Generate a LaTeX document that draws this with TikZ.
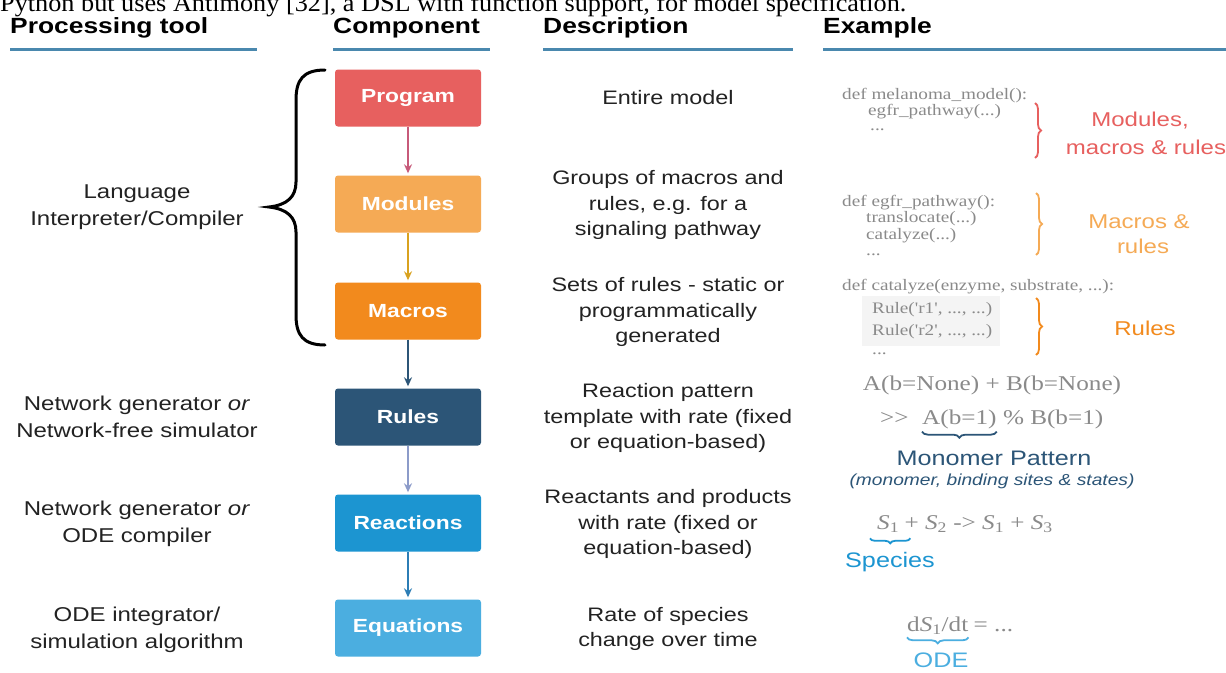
\documentclass[tikz,border=0pt]{standalone}
\usepackage{fontspec}
\setmainfont{Liberation Serif}
\newfontfamily\hv[FakeStretch=1.2]{Liberation Sans}
\newfontfamily\tm[FakeStretch=1.2]{Liberation Serif}
\newfontfamily\tp[FakeStretch=1.05]{Liberation Serif}
\usetikzlibrary{arrows.meta,decorations.pathreplacing}
\definecolor{cprog}{HTML}{E7605F}
\definecolor{cmod}{HTML}{F5AA55}
\definecolor{cmac}{HTML}{F28A1D}
\definecolor{crul}{HTML}{2C5577}
\definecolor{creac}{HTML}{1C95D1}
\definecolor{cequ}{HTML}{4BAEE0}
\definecolor{aone}{HTML}{C75A7A}
\definecolor{atwo}{HTML}{D9A21F}
\definecolor{afour}{HTML}{8C9BC9}
\definecolor{afive}{HTML}{2C7DB5}
\definecolor{cline}{HTML}{4A88AE}
\definecolor{cgray}{HTML}{8A8A8A}
\definecolor{ctext}{HTML}{222222}
\definecolor{cshade}{HTML}{F4F4F4}
\begin{document}
\begin{tikzpicture}[x=1pt,y=-1pt,
  box/.style={rounded corners=3pt, minimum width=146pt, minimum height=57pt, text=white, font=\hv\bfseries\fontsize{19}{22}\selectfont, inner sep=0pt},
  hdr/.style={anchor=base west, inner sep=0pt, font=\hv\bfseries\fontsize{22}{26}\selectfont},
  uline/.style={line width=3pt, color=cline},
  lft/.style={align=center, text=ctext, font=\hv\fontsize{20}{27}\selectfont},
  dsc/.style={align=center, text=ctext, font=\hv\fontsize{19.5}{25.5}\selectfont},
  code/.style={anchor=base west, text=cgray, font=\tm\fontsize{16}{18}\selectfont, inner sep=0pt},
  lbl/.style={align=center, font=\hv\fontsize{20}{26}\selectfont},
  eqn/.style={anchor=base west, text=cgray, font=\tm\fontsize{21}{24}\selectfont, inner sep=0pt},
  arr/.style={-{Stealth[length=9pt,width=8pt]}, line width=2pt, shorten >=2pt},
  rbrace/.style={decorate, decoration={brace, amplitude=6pt}, line width=1.8pt},
]
\useasboundingbox (0,0) rectangle (1226,672);
\fill[white] (0,0) rectangle (1226,672);

% cropped paper line
\node[anchor=base west, inner sep=0pt, font=\tp\fontsize{25}{29}\selectfont] (paper) at (0,11.5) {Python but uses Antimony [32], a DSL with function support, for model specification.};

% headers
\node[hdr] (h1) at (10,33.5) {Processing tool};
\node[hdr] (h2) at (333,33.5) {Component};
\node[hdr] (h3) at (543,33.5) {Description};
\node[hdr] (h4) at (823,33.5) {Example};
\draw[uline] (10,49) -- (257,49);
\draw[uline] (333,49) -- (490,49);
\draw[uline] (543,49) -- (793,49);
\draw[uline] (823,49) -- (1226,49);

% component boxes
\node[box, fill=cprog] (prog) at (408,98) {Program};
\node[box, fill=cmod] (mod) at (408,204) {Modules};
\node[box, fill=cmac] (mac) at (408,311) {Macros};
\node[box, fill=crul] (rul) at (408,417) {Rules};
\node[box, fill=creac] (reac) at (408,523) {Reactions};
\node[box, fill=cequ] (equ) at (408,628) {Equations};
\draw[arr, aone] (prog) -- (mod);
\draw[arr, atwo] (mod) -- (mac);
\draw[arr, crul] (mac) -- (rul);
\draw[arr, afour] (rul) -- (reac);
\draw[arr, afive] (reac) -- (equ);

% big left brace
\draw[line width=3pt, line cap=round] (325,70) .. controls (303,70) and (296,80) .. (296,100) -- (296,182)
  .. controls (296,197) and (287,205) .. (269,207) .. controls (287,209) and (296,217) .. (296,232)
  -- (296,315) .. controls (296,335) and (303,345) .. (325,345);

% processing tool column
\node[lft] (p1) at (137,207) {Language\\Interpreter/Compiler};
\node[lft] (p2) at (137,417) {Network generator \textit{or}\\Network-free simulator};
\node[lft] (p3) at (137,524) {Network generator \textit{or}\\ODE compiler};
\node[lft] (p4) at (137,630) {ODE integrator/\\simulation algorithm};

% description column
\node[dsc] (d1) at (668,98) {Entire model};
\node[dsc] (d2) at (668,205) {Groups of macros and\\rules, e.g. for a\\signaling pathway};
\node[dsc] (d3) at (668,312) {Sets of rules - static or\\programmatically\\generated};
\node[dsc] (d4) at (668,418) {Reaction pattern\\template with rate (fixed\\or equation-based)};
\node[dsc] (d5) at (668,524) {Reactants and products\\with rate (fixed or\\equation-based)};
\node[dsc] (d6) at (668,629) {Rate of species\\change over time};

% example column: code blocks
\node[code] (c11) at (842,99) {def melanoma\_model():};
\node[code] (c12) at (868,115) {egfr\_pathway(...)};
\node[code] (c13) at (870,130) {...};
\draw[rbrace, cprog] (1035,103) -- (1035,158);
\node[lbl, text=cprog] (l11) at (1140,121) {Modules,};
\node[lbl, text=cprog] (l12) at (1146,147) {macros \& rules};

\node[code] (c21) at (842,206) {def egfr\_pathway():};
\node[code] (c22) at (866,222) {translocate(...)};
\node[code] (c23) at (866,239) {catalyze(...)};
\node[code] (c24) at (866,255) {...};
\draw[rbrace, cmod] (1036,193) -- (1036,255);
\node[lbl, text=cmod] (l21) at (1139,222) {Macros \&};
\node[lbl, text=cmod] (l22) at (1143,246) {rules};

\fill[cshade] (862,296) rectangle (1000,346);
\node[code] (c31) at (842,290) {def catalyze(enzyme, substrate, ...):};
\node[code] (c32) at (872,313) {Rule('r1', ..., ...)};
\node[code] (c33) at (872,335) {Rule('r2', ..., ...)};
\node[code] (c34) at (872,354) {...};
\draw[rbrace, cmac] (1036,298) -- (1036,355);
\node[lbl, text=cmac] (l31) at (1145,328) {Rules};

% rule example
\node[eqn, anchor=base] (e1) at (992,390) {A(b=None) + B(b=None)};
\node[eqn] (e2a) at (880,424) {>{}>};
\node[eqn] (ab1) at (922,424) {A(b=1)};
\node[eqn] (e2b) at ([xshift=6pt]ab1.base east) {\% B(b=1)};
\draw[decorate, decoration={brace, amplitude=6pt}, line width=1.8pt, crul] ([yshift=-3pt]ab1.south east) -- ([yshift=-3pt]ab1.south west);
\node[lbl, text=crul, font=\hv\fontsize{21}{24}\selectfont] (mp) at (994,458) {Monomer Pattern};
\node[lbl, text=crul, font=\hv\itshape\fontsize{16}{19}\selectfont] (mps) at (992,481) {(monomer, binding sites \& states)};

% reaction example
\node[eqn] (s1) at (877,529) {\textit{S}\textsubscript{1}};
\node[eqn] (srest) at ([xshift=5pt]s1.base east) {+ \textit{S}\textsubscript{2} -> \textit{S}\textsubscript{1} + \textit{S}\textsubscript{3}};
\draw[decorate, decoration={brace, amplitude=5pt}, line width=1.8pt, creac] ([xshift=11pt,yshift=-6pt]s1.south east) -- ([xshift=-7pt,yshift=-6pt]s1.south west);
\node[lbl, text=creac, font=\hv\fontsize{21}{24}\selectfont] (sp) at (890,562) {Species};

% ODE example
\node[eqn] (ds) at (907,631) {d\textit{S}\textsubscript{1}/dt};
\node[eqn] (dsr) at ([xshift=5pt]ds.base east) {= ...};
\draw[decorate, decoration={brace, amplitude=6pt}, line width=1.8pt, cequ] ([yshift=-3pt]ds.south east) -- ([yshift=-3pt]ds.south west);
\node[lbl, text=cequ, font=\hv\fontsize{21}{24}\selectfont] (ode) at (941,660) {ODE};
\end{tikzpicture}
\end{document}
